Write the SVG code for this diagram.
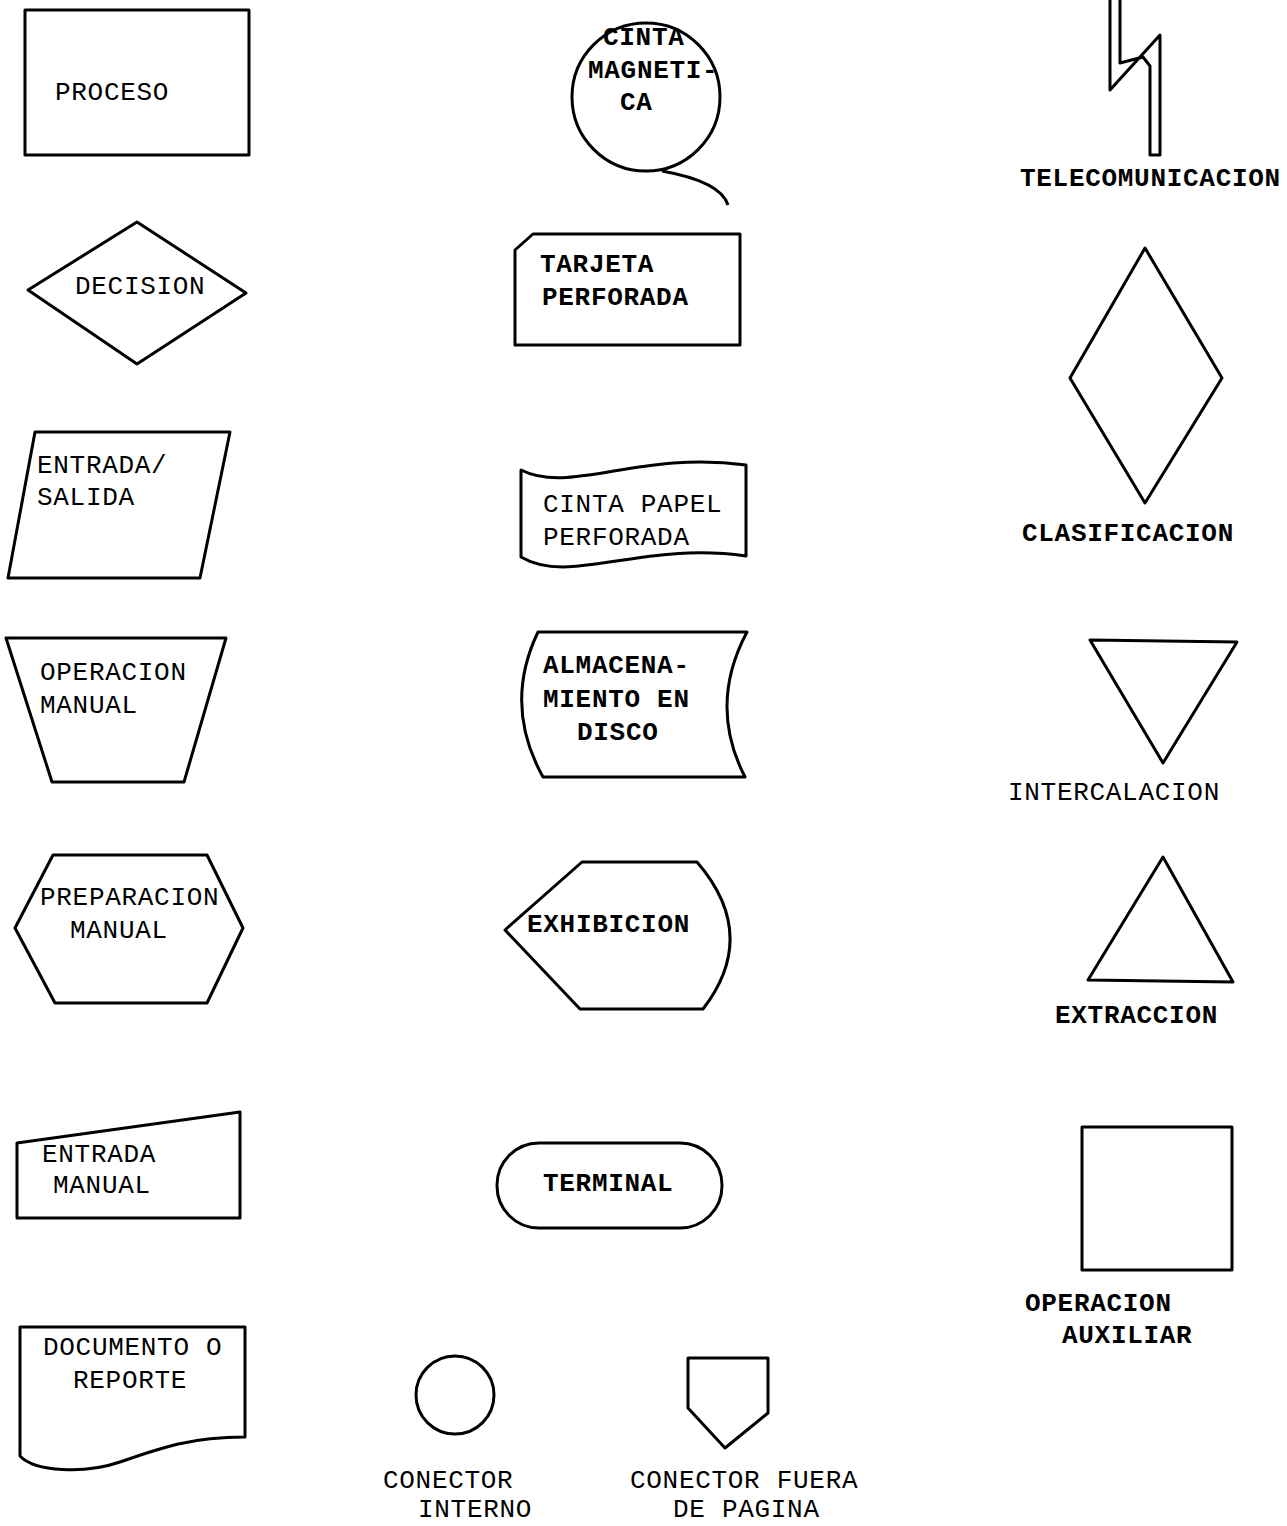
<svg xmlns="http://www.w3.org/2000/svg" width="1287" height="1526" viewBox="0 0 1287 1526">
<style>
.s{fill:none;stroke:#000;stroke-width:3;stroke-linejoin:round}
text{font-family:"Liberation Mono","DejaVu Sans Mono",monospace;font-size:26px;letter-spacing:0.7px;fill:#000}
.b{font-weight:bold}
</style>
<rect width="1287" height="1526" fill="#fff"/>
<g id="proceso"><rect class="s" x="25" y="10" width="224" height="145"/><text x="55" y="100">PROCESO</text></g>
<g id="decision"><polygon class="s" points="28,290 137,222 246,293 137,364"/><text x="75" y="294">DECISION</text></g>
<g id="entrada-salida"><polygon class="s" points="35,432 230,432 200,578 8,578"/><text x="37" y="473">ENTRADA/</text><text x="37" y="505">SALIDA</text></g>
<g id="operacion-manual"><polygon class="s" points="6,638 226,638 184,782 52,782"/><text x="40" y="680">OPERACION</text><text x="40" y="713">MANUAL</text></g>
<g id="preparacion-manual"><polygon class="s" points="15,928 53,855 207,855 243,928 207,1003 55,1003"/><text x="40" y="905">PREPARACION</text><text x="70" y="938">MANUAL</text></g>
<g id="entrada-manual"><polygon class="s" points="17,1143 240,1112 240,1218 17,1218"/><text x="42" y="1162">ENTRADA</text><text x="53" y="1193">MANUAL</text></g>
<g id="documento"><path class="s" d="M20,1327 H245 V1437 C190,1437 160,1448 120,1462 C85,1474 35,1472 20,1456 Z"/><text x="43" y="1355">DOCUMENTO O</text><text x="73" y="1388">REPORTE</text></g>

<g id="cinta-magnetica"><circle class="s" cx="646" cy="97" r="74"/><path class="s" d="M662,171 C690,176 722,186 728,205"/><text class="b" x="603" y="45">CINTA</text><text class="b" x="588" y="78">MAGNETI-</text><text class="b" x="620" y="110">CA</text></g>
<g id="tarjeta"><polygon class="s" points="533,234 740,234 740,345 515,345 515,250"/><text class="b" x="540" y="272">TARJETA</text><text class="b" x="542" y="305">PERFORADA</text></g>
<g id="cinta-papel"><path class="s" d="M521,470 C570,495 640,450 746,465 V556 C640,541 570,586 521,557 Z"/><text x="543" y="512">CINTA PAPEL</text><text x="543" y="545">PERFORADA</text></g>
<g id="disco"><path class="s" d="M538,632 H747 Q708,705 745,777 H543 Q503,705 538,632 Z"/><text class="b" x="543" y="673">ALMACENA-</text><text class="b" x="543" y="707">MIENTO EN</text><text class="b" x="577" y="740">DISCO</text></g>
<g id="exhibicion"><path class="s" d="M505,930 L582,862 H697 Q760,935 703,1009 H580 Z"/><text class="b" x="527" y="932">EXHIBICION</text></g>
<g id="terminal"><rect class="s" x="497" y="1143" width="225" height="85" rx="42"/><text class="b" x="543" y="1191">TERMINAL</text></g>
<g id="conector-interno"><circle class="s" cx="455" cy="1395" r="39"/><text x="383" y="1488">CONECTOR</text><text x="418" y="1517">INTERNO</text></g>
<g id="conector-fuera"><polygon class="s" points="688,1358 768,1358 768,1413 725,1448 688,1408"/><text x="630" y="1488">CONECTOR FUERA</text><text x="673" y="1517">DE PAGINA</text></g>

<g id="telecomunicacion"><path class="s" d="M1110,0 V90 L1160,35 V155 H1150 V66 L1143,57 L1120,63 V0"/><text class="b" x="1020" y="186">TELECOMUNICACION</text></g>
<g id="clasificacion"><polygon class="s" points="1145,248 1222,378 1145,503 1070,378"/><text class="b" x="1022" y="541">CLASIFICACION</text></g>
<g id="intercalacion"><polygon class="s" points="1090,640 1237,642 1163,763"/><text x="1008" y="800">INTERCALACION</text></g>
<g id="extraccion"><polygon class="s" points="1163,857 1233,982 1088,980"/><text class="b" x="1055" y="1023">EXTRACCION</text></g>
<g id="operacion-auxiliar"><rect class="s" x="1082" y="1127" width="150" height="143"/><text class="b" x="1025" y="1311">OPERACION</text><text class="b" x="1062" y="1343">AUXILIAR</text></g>
<g id="connectors"></g>
</svg>
